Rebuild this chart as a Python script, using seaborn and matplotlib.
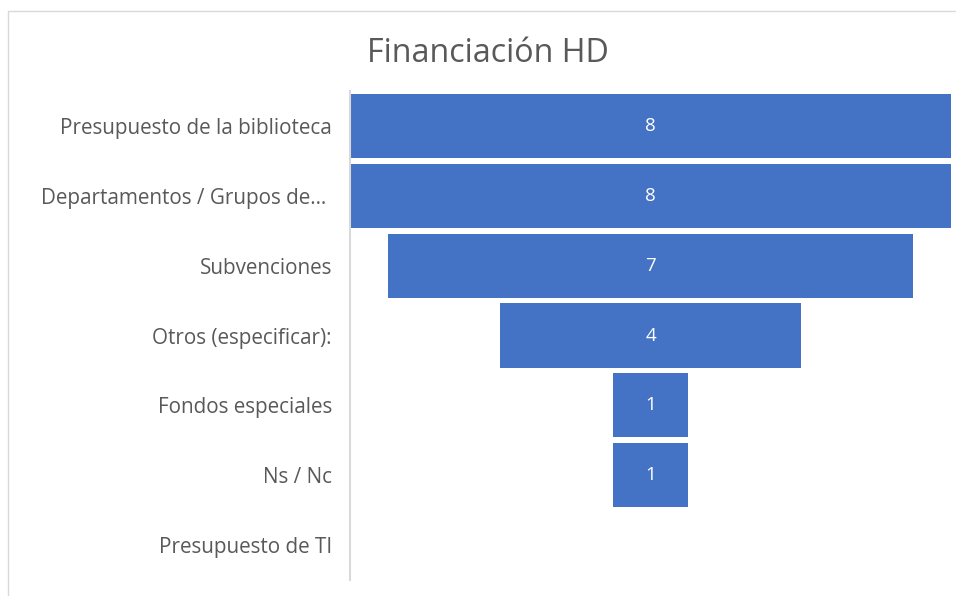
import matplotlib
matplotlib.use("Agg")
import matplotlib.pyplot as plt
from matplotlib.lines import Line2D
import pandas as pd
import seaborn as sns

# funnel data (Financiación HD)
categories = [
    "Presupuesto de la biblioteca",
    "Departamentos / Grupos de… ",
    "Subvenciones",
    "Otros (especificar):",
    "Fondos especiales",
    "Ns / Nc",
    "Presupuesto de TI",
]
counts = [8, 8, 7, 4, 1, 1, 0]

BAR_COLOR = "#4472C4"
TEXT_COLOR = "#595959"

sns.set_theme(style="white")
plt.rcParams["font.family"] = ["Open Sans", "DejaVu Sans"]

df = pd.DataFrame({"cat": categories, "n": counts})

fig = plt.figure(figsize=(9.56, 5.96), dpi=100)
ax = fig.add_axes([350 / 956, 1 - 580 / 596, 601 / 956, 489 / 596])

sns.barplot(data=df, x="n", y="cat", color=BAR_COLOR, saturation=1,
            width=0.92, linewidth=0, ax=ax, orient="h")

# centre each bar to get the funnel shape
for patch, v in zip(ax.patches, counts):
    w = patch.get_width()
    patch.set_x(-w / 2)
    if v > 0:
        ax.text(0, patch.get_y() + patch.get_height() / 2, str(v),
                ha="center", va="center", color="white", fontsize=13.5)

mx = max(counts)
ax.set_xlim(-mx / 2, mx / 2)
ax.set_xlabel("")
ax.set_ylabel("")
ax.set_xticks([])
ax.tick_params(axis="y", length=0, pad=13, labelsize=14.9, labelcolor=TEXT_COLOR)
for s in ["top", "right", "bottom"]:
    ax.spines[s].set_visible(False)
ax.spines["left"].set_color("#d9d9d9")
ax.spines["left"].set_linewidth(1.5)

fig.text(488 / 956, 1 - 53 / 596, "Financiación HD", ha="center", va="center",
         fontsize=23.2, color=TEXT_COLOR)

# outer chart frame (only top and left visible in the crop)
fig.add_artist(Line2D([8 / 956, 1], [1 - 11 / 596, 1 - 11 / 596], color="#d9d9d9", lw=1))
fig.add_artist(Line2D([8 / 956, 8 / 956], [0, 1 - 11 / 596], color="#d9d9d9", lw=1))

fig.savefig("out.png", dpi=100)
